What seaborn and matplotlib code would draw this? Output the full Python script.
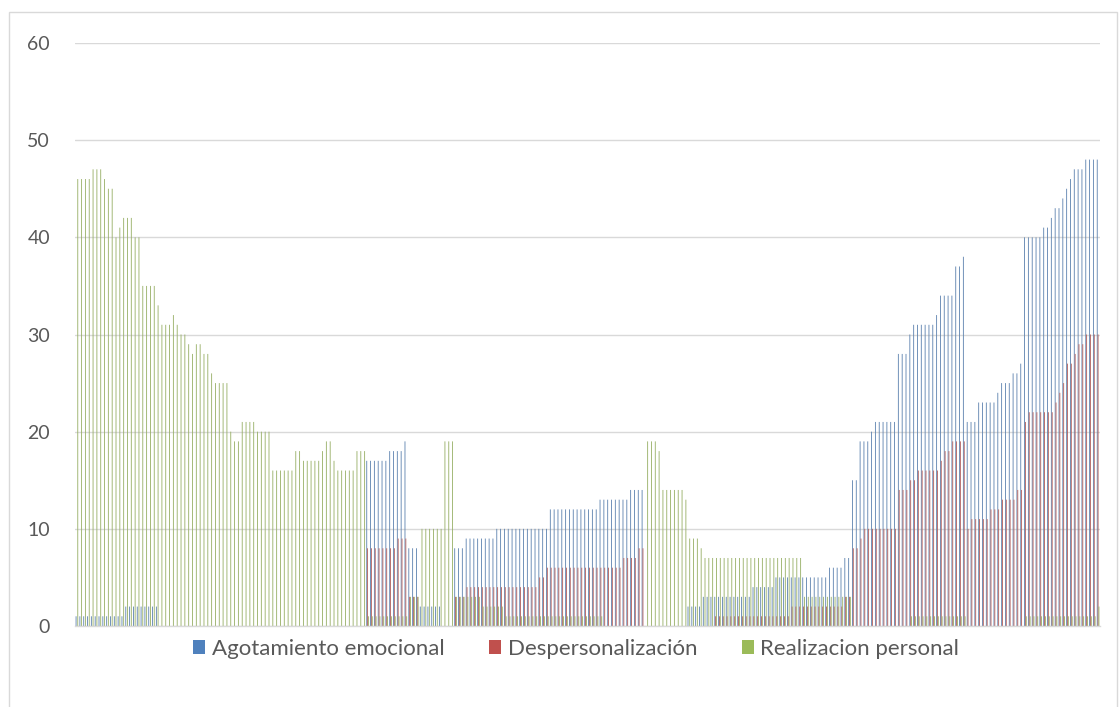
import pandas as pd
import seaborn as sns
import matplotlib.pyplot as plt
from matplotlib.patches import Patch, Rectangle

# Puntajes por sujeto (268 sujetos)
agotamiento = [
    1, 1, 1, 1, 1, 1, 1, 1, 1, 1, 1, 1, 1,
    2, 2, 2, 2, 2, 2, 2, 2, 2,
    0, 0, 0, 0, 0, 0, 0, 0, 0, 0, 0, 0, 0, 0, 0, 0, 0, 0, 0, 0, 0, 0, 0, 0, 0, 0, 0, 0, 0,
    0, 0, 0, 0, 0, 0, 0, 0, 0, 0, 0, 0, 0, 0, 0, 0, 0, 0, 0, 0, 0, 0, 0, 0, 0,
    17, 17, 17, 17, 17, 17, 18, 18, 18, 18, 19,
    8, 8, 8, 2, 2, 2, 2, 2, 2, 0, 0, 0, 8, 8, 8,
    9, 9, 9, 9, 9, 9, 9, 9,
    10, 10, 10, 10, 10, 10, 10, 10, 10, 10, 10, 10, 10, 10,
    12, 12, 12, 12, 12, 12, 12, 12, 12, 12, 12, 12, 12,
    13, 13, 13, 13, 13, 13, 13, 13, 14, 14, 14, 14, 0, 0, 0, 0,
    0, 0, 0, 0, 0, 0, 0, 2, 2, 2, 2,
    3, 3, 3, 3, 3, 3, 3, 3, 3, 3, 3, 3, 3,
    4, 4, 4, 4, 4, 4,
    5, 5, 5, 5, 5, 5, 5, 5, 5, 5, 5, 5, 5, 5,
    6, 6, 6, 6, 7, 7,
    15, 15, 19, 19, 19, 20, 21, 21, 21, 21, 21, 21, 28, 28, 28,
    30, 31, 31, 31, 31, 31, 31, 32, 34, 34, 34, 34, 37, 37, 38,
    21, 21, 21, 23, 23, 23, 23, 23, 24, 25, 25, 25, 26, 26, 27,
    40, 40, 40, 40, 40, 41, 41, 42, 43, 43, 44, 45, 46, 47, 47, 47, 48, 48, 48, 48,
]
despersonalizacion = [
    0, 0, 0, 0, 0, 0, 0, 0, 0, 0, 0, 0, 0, 0, 0, 0, 0, 0, 0, 0, 0, 0, 0, 0, 0,
    0, 0, 0, 0, 0, 0, 0, 0, 0, 0, 0, 0, 0, 0, 0, 0, 0, 0, 0, 0, 0, 0, 0, 0, 0, 0,
    0, 0, 0, 0, 0, 0, 0, 0, 0, 0, 0, 0, 0, 0, 0, 0, 0, 0, 0, 0, 0, 0, 0, 0, 0,
    8, 8, 8, 8, 8, 8, 8, 8, 9, 9, 9,
    3, 3, 3, 0, 0, 0, 0, 0, 0, 0, 0, 0, 3, 3, 3,
    4, 4, 4, 4, 4, 4, 4, 4, 4, 4, 4, 4, 4, 4, 4, 4, 4, 4, 4, 5, 5,
    6, 6, 6, 6, 6, 6, 6, 6, 6, 6, 6, 6, 6, 6, 6, 6, 6, 6, 6, 6,
    7, 7, 7, 7, 8, 8, 0, 0, 0, 0,
    0, 0, 0, 0, 0, 0, 0, 0, 0, 0, 0, 0, 0, 0,
    1, 1, 1, 1, 1, 1, 1, 1, 1, 1, 1, 1, 1, 1, 1, 1, 1, 1, 1, 1,
    2, 2, 2, 2, 2, 2, 2, 2, 2, 2, 2, 2, 2, 2, 3, 3,
    8, 8, 9, 10, 10, 10, 10, 10, 10, 10, 10, 10, 14, 14, 14,
    15, 15, 16, 16, 16, 16, 16, 16, 17, 18, 18, 19, 19, 19, 19,
    10, 11, 11, 11, 11, 11, 12, 12, 12, 13, 13, 13, 13, 14, 14,
    21, 22, 22, 22, 22, 22, 22, 22, 23, 24, 25, 27, 27, 28, 29, 29, 30, 30, 30, 30,
]
realizacion = [
    46, 46, 46, 46, 47, 47, 47, 46, 45, 45, 40, 41, 42, 42, 42, 40, 40, 35, 35, 35,
    35, 33, 31, 31, 31, 32, 31, 30, 30, 29, 28, 29, 29, 28, 28, 26, 25, 25, 25, 25,
    20, 19, 19, 21, 21, 21, 21, 20, 20, 20, 20,
    16, 16, 16, 16, 16, 16, 18, 18, 17, 17, 17, 17, 17, 18, 19, 19, 17, 16, 16, 16,
    16, 16, 18, 18, 18,
    1, 1, 1, 1, 1, 1, 1, 1, 1, 1, 1,
    3, 3, 3, 10, 10, 10, 10, 10, 10, 19, 19, 19, 3, 3, 3,
    3, 3, 3, 3, 2, 2, 2, 2, 2, 2,
    1, 1, 1, 1, 1, 1, 1, 1, 1, 1, 1, 1, 1, 1, 1, 1, 1, 1, 1, 1, 1, 1, 1, 1, 1, 1,
    0, 0, 0, 0, 0, 0, 0, 0, 0, 0, 0, 19, 19, 19, 18,
    14, 14, 14, 14, 14, 14, 13, 9, 9, 9, 8,
    7, 7, 7, 7, 7, 7, 7, 7, 7, 7, 7, 7, 7, 7, 7, 7, 7, 7, 7, 7, 7, 7, 7, 7, 7, 7,
    3, 3, 3, 3, 3, 3, 3, 3, 3, 3, 3, 3, 3,
    0, 0, 0, 0, 0, 0, 0, 0, 0, 0, 0, 0, 0, 0, 0,
    1, 1, 1, 1, 1, 1, 1, 1, 1, 1, 1, 1, 1, 1, 1,
    0, 0, 0, 0, 0, 0, 0, 0, 0, 0, 0, 0, 0, 0, 0,
    1, 1, 1, 1, 1, 1, 1, 1, 1, 1, 1, 1, 1, 1, 1, 1, 1, 1, 1, 2,
]

series_names = ['Agotamiento emocional', 'Despersonalización', 'Realizacion personal']
colors = ['#4F81BD', '#C0504D', '#9BBB59']
y_ticks = [0, 10, 20, 30, 40, 50, 60]

# formato largo para seaborn
frames = []
for name, vals in zip(series_names, [agotamiento, despersonalizacion, realizacion]):
    frames.append(pd.DataFrame({'sujeto': range(len(vals)), 'serie': name, 'puntaje': vals}))
df = pd.concat(frames, ignore_index=True)

sns.set_style('white')
plt.rcParams['font.family'] = ['Lato', 'DejaVu Sans']

W, H = 1119, 707
fig = plt.figure(figsize=(W / 100, H / 100), dpi=100)
ax = fig.add_axes([75 / W, 81 / H, 1025 / W, 583 / H])

sns.barplot(data=df, x='sujeto', y='puntaje', hue='serie', hue_order=series_names,
            palette=dict(zip(series_names, colors)), width=0.667, errorbar=None,
            linewidth=0, ax=ax, legend=False)
for p in ax.patches:
    p.set_snap(False)

n = len(realizacion)
ax.set_xlim(-0.5, n - 0.5)
ax.set_ylim(0, 60)
ax.set_yticks(y_ticks)
ax.set_xticks([])
ax.set_xlabel('')
ax.set_ylabel('')
ax.grid(axis='y', color='#D9D9D9', linewidth=1)
ax.set_axisbelow(True)
for s in ['top', 'right', 'left']:
    ax.spines[s].set_visible(False)
ax.spines['bottom'].set_color('#D9D9D9')
ax.spines['bottom'].set_linewidth(1)
ax.tick_params(axis='y', length=0, pad=18, labelsize=14, labelcolor='#595959')

handles = [Patch(facecolor=c, edgecolor='none') for c in colors]
fig.legend(handles, series_names, loc='center', bbox_to_anchor=(576 / W, 58 / H),
           ncol=3, frameon=False, fontsize=16, labelcolor='#595959',
           handlelength=0.55, handleheight=0.55, handletextpad=0.3, columnspacing=2.0)

# borde del area del grafico
fig.patches.append(Rectangle((9 / W, -0.01), 1108 / W, 1 - 12 / H + 0.01,
                             transform=fig.transFigure, fill=False,
                             edgecolor='#D9D9D9', linewidth=1))

fig.savefig('out.png', dpi=100)
